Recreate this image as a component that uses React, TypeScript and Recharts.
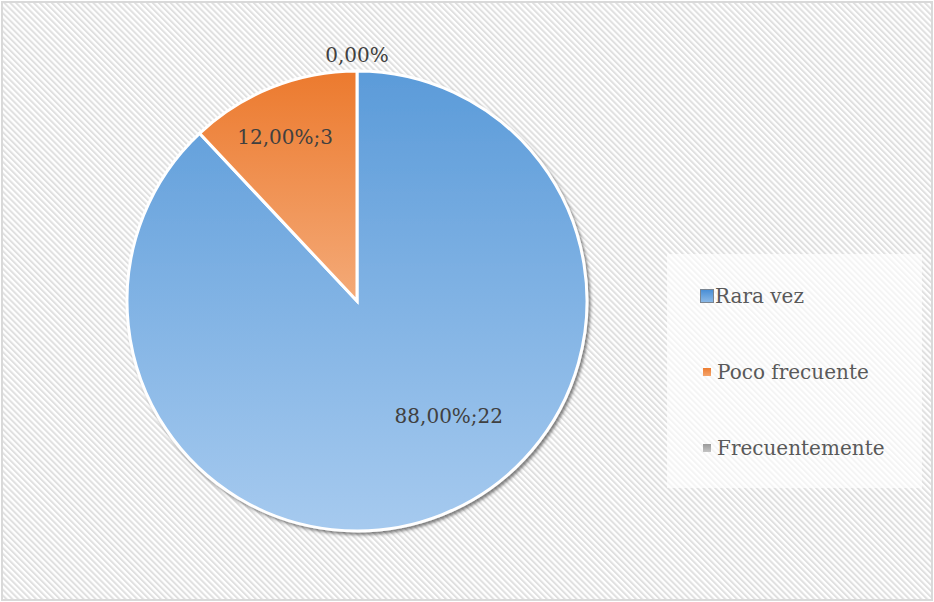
import React from "react";
import { PieChart, Pie, Cell, Legend } from "recharts";

const categories = ["Rara vez", "Poco frecuente", "Frecuentemente"];
const counts = [22, 3, 0];

const total = counts.reduce((a, b) => a + b, 0);
const data = categories.map((name, i) => ({ name, value: counts[i] }));

const FILLS: Record<string, string> = {
  "Rara vez": "url(#gradBlue)",
  "Poco frecuente": "url(#gradOrange)",
  Frecuentemente: "url(#gradGray)",
};

const MARKERS: Record<string, string> = {
  "Rara vez": "linear-gradient(#4a8fd6, #8ab8e6)",
  "Poco frecuente": "linear-gradient(#ed7d31, #f4a46c)",
  Frecuentemente: "linear-gradient(#9a9a9a, #c4c4c4)",
};

// where each data label sits: fraction of the radius, and an angle nudge (deg)
const LABEL_PLACE: Record<string, { k: number; shift: number }> = {
  "Rara vez": { k: 0.64, shift: 17 },
  "Poco frecuente": { k: 0.78, shift: 2 },
  Frecuentemente: { k: 1.07, shift: 0 },
};

const RADIAN = Math.PI / 180;
const FONT = "'DejaVu Serif', serif";

const fmtPct = (v: number) => ((v / total) * 100).toFixed(2).replace(".", ",") + "%";

const renderLabel = (props: any) => {
  const { cx, cy, midAngle, outerRadius, name, value } = props;
  const place = LABEL_PLACE[name] ?? { k: 0.6, shift: 0 };
  const ang = midAngle + place.shift;
  const r = outerRadius * place.k;
  const x = cx + r * Math.cos(-ang * RADIAN);
  const y = cy + r * Math.sin(-ang * RADIAN);
  const text = value > 0 ? `${fmtPct(value)};${value}` : fmtPct(value);
  return (
    <text
      x={x}
      y={y}
      textAnchor="middle"
      dominantBaseline="central"
      fill="#404040"
      fontSize={20}
      fontFamily={FONT}
    >
      {text}
    </text>
  );
};

const renderLegend = () => (
  <div
    style={{
      width: 255,
      height: 234,
      background: "rgba(255,255,255,0.65)",
      boxSizing: "border-box",
      paddingTop: 4,
    }}
  >
    {categories.map((name) => (
      <div
        key={name}
        style={{
          display: "flex",
          alignItems: "center",
          height: 76,
          fontFamily: FONT,
          fontSize: 20,
          color: "#595959",
        }}
      >
        <span
          style={{
            display: "inline-block",
            width: name === "Rara vez" ? 14 : 8,
            height: name === "Rara vez" ? 14 : 8,
            marginLeft: name === "Rara vez" ? 33 : 36,
            marginRight: name === "Rara vez" ? 1 : 6,
            background: MARKERS[name],
            border: name === "Rara vez" ? "1px solid #7a8591" : "none",
            boxSizing: "border-box",
          }}
        />
        <span>{name}</span>
      </div>
    ))}
  </div>
);

export default function App() {
  return (
    <div style={{ position: "absolute", left: 0, top: 0, width: 934, height: 602 }}>
      <svg width={934} height={602} style={{ position: "absolute", left: 0, top: 0 }}>
        <defs>
          <pattern
            id="hatch"
            patternUnits="userSpaceOnUse"
            width={4.2}
            height={4.2}
            patternTransform="rotate(-45)"
          >
            <rect width={4.2} height={4.2} fill="#ffffff" />
            <rect width={2} height={4.2} fill="#e0e0e0" />
          </pattern>
          <linearGradient id="gradBlue" x1="0" y1="0" x2="0" y2="1">
            <stop offset="0%" stopColor="#5b9bd9" />
            <stop offset="100%" stopColor="#a6caef" />
          </linearGradient>
          <linearGradient id="gradOrange" x1="0" y1="0" x2="0" y2="1">
            <stop offset="0%" stopColor="#ec7a2e" />
            <stop offset="100%" stopColor="#f4aa78" />
          </linearGradient>
          <linearGradient id="gradGray" x1="0" y1="0" x2="0" y2="1">
            <stop offset="0%" stopColor="#9a9a9a" />
            <stop offset="100%" stopColor="#c8c8c8" />
          </linearGradient>
          <filter id="pieShadow" x="-10%" y="-10%" width="120%" height="120%">
            <feDropShadow dx={2} dy={2.5} stdDeviation={1.8} floodColor="#333333" floodOpacity={0.6} />
          </filter>
        </defs>
        <rect x={0} y={0} width={934} height={602} fill="#ffffff" />
        <rect x={2} y={2} width={930} height={598} fill="url(#hatch)" stroke="#d9d9d9" strokeWidth={2} />
      </svg>
      <PieChart
        width={934}
        height={602}
        margin={{ top: 0, right: 0, bottom: 0, left: 0 }}
        style={{ position: "absolute", left: 0, top: 0 }}
      >
        <Pie
          data={data}
          dataKey="value"
          nameKey="name"
          cx={357}
          cy={301}
          outerRadius={230}
          startAngle={90}
          endAngle={-270}
          stroke="#ffffff"
          strokeWidth={3}
          label={renderLabel}
          labelLine={false}
          isAnimationActive={false}
        >
          {data.map((entry) => (
            <Cell
              key={entry.name}
              fill={FILLS[entry.name]}
              filter={entry.name === "Rara vez" ? "url(#pieShadow)" : undefined}
            />
          ))}
        </Pie>
        <Legend
          layout="vertical"
          content={renderLegend}
          wrapperStyle={{ position: "absolute", left: 667, top: 254, width: 255, height: 234 }}
        />
      </PieChart>
    </div>
  );
}
